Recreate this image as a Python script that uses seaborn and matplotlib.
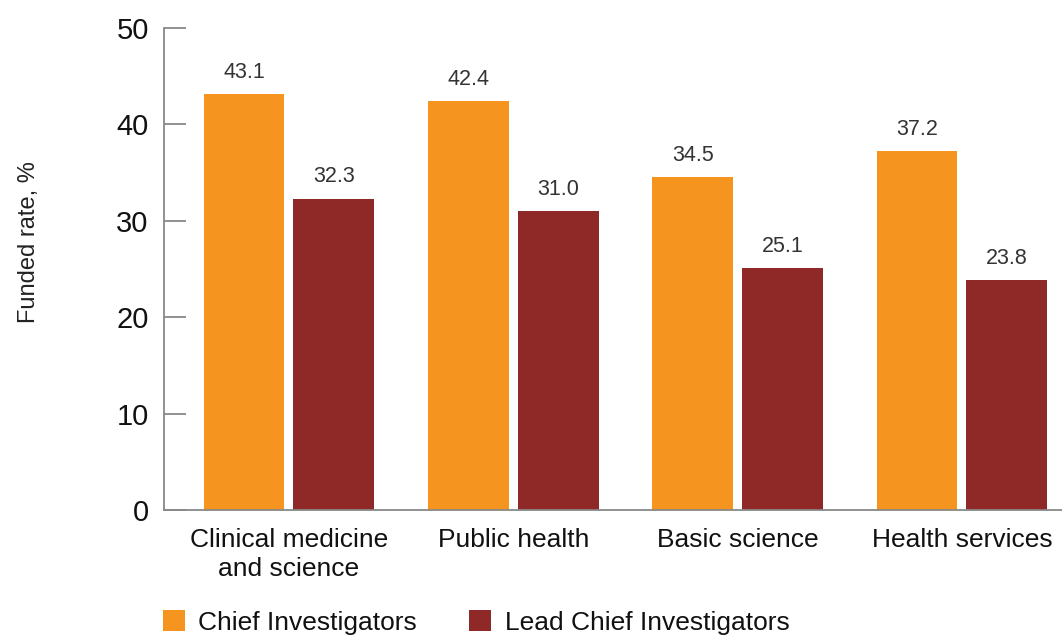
import pandas as pd
import matplotlib
matplotlib.use('Agg')
import matplotlib.pyplot as plt
import seaborn as sns

# 数据
categories = ['Clinical medicine\nand science', 'Public health', 'Basic science', 'Health services']
series_names = ['Chief Investigators', 'Lead Chief Investigators']
chief_values = [43.1, 42.4, 34.5, 37.2]
lead_values = [32.3, 31.0, 25.1, 23.8]
colors = ['#F5941F', '#8E2927']

df = pd.DataFrame({
    'category': categories * 2,
    'series': [series_names[0]] * 4 + [series_names[1]] * 4,
    'value': chief_values + lead_values,
})

sns.set_style('white')
plt.rcParams['font.family'] = ['Liberation Sans', 'DejaVu Sans']

fig = plt.figure(figsize=(10.62, 6.35), dpi=100)
ax = fig.add_axes([0.1544, 0.197, 0.8456, 0.759])

sns.barplot(data=df, x='category', y='value', hue='series', order=categories,
            hue_order=series_names, palette=colors, width=0.8, gap=0.1,
            saturation=1, linewidth=0, ax=ax, legend=True)

# 数值标签
for cont in ax.containers:
    ax.bar_label(cont, fmt='%.1f', padding=8, fontsize=15.5, color='#333333')

ax.set_xlim(-0.557, 3.446)
ax.set_ylim(0, 50)
ax.set_yticks([0, 10, 20, 30, 40, 50])
ax.set_xlabel('')
ax.set_ylabel('Funded rate, %', fontsize=17, color='#222222')
ax.yaxis.set_label_coords(-0.138, 0.556)

for s in ['top', 'right']:
    ax.spines[s].set_visible(False)
for s in ['left', 'bottom']:
    ax.spines[s].set_color('#888888')
    ax.spines[s].set_linewidth(1.3)

ax.tick_params(axis='y', direction='in', length=16, width=1.3, color='#888888',
               labelsize=21, pad=11, left=True, labelcolor='#111111')
ax.tick_params(axis='x', length=0, labelsize=19, pad=13, labelcolor='#111111')
for lbl in ax.get_xticklabels():
    lbl.set_linespacing(1.25)

# 图例
handles, labels = ax.get_legend_handles_labels()
ax.legend_.remove()
fig.legend(handles, labels, loc='lower left', bbox_to_anchor=(0.131, -0.037),
           ncol=2, frameon=False, fontsize=19, handlelength=0.85, handleheight=0.85,
           handletextpad=0.5, columnspacing=1.96, labelcolor='#111111')

plt.savefig('out.png', dpi=100)
